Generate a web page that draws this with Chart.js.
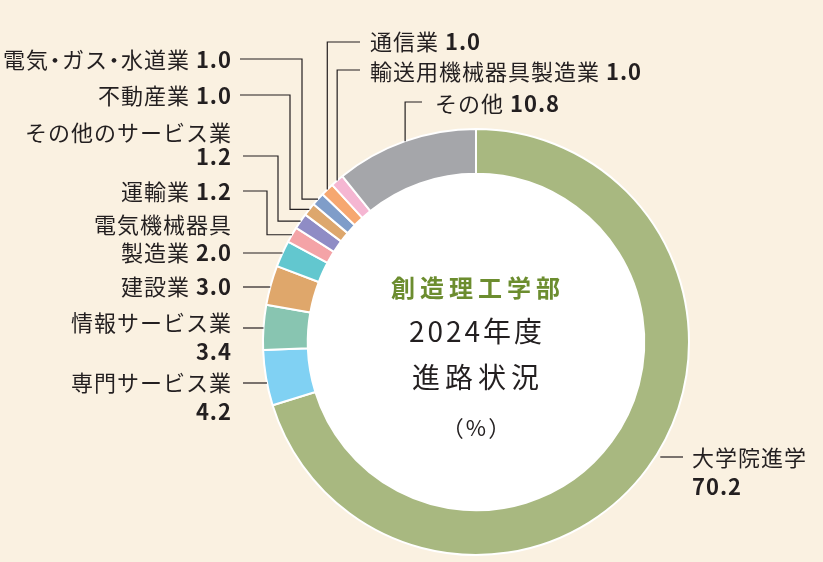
<!DOCTYPE html>
<html lang="ja">
<head>
<meta charset="utf-8">
<script src="https://cdn.jsdelivr.net/npm/chart.js@4.4.1/dist/chart.umd.min.js"></script>
<style>
  html, body { margin: 0; padding: 0; background: #FAF1E1; }
  #wrap { width: 823px; height: 562px; }
</style>
</head>
<body>
<div id="wrap"><canvas id="chart" width="823" height="562"></canvas></div>
<script>
// data (clockwise from 12 o'clock)
const categories = [
    '大学院進学', '専門サービス業', '情報サービス業', '建設業', '電気機械器具製造業',
    '運輸業', 'その他のサービス業', '不動産業', '電気・ガス・水道業', '通信業',
    '輸送用機械器具製造業', 'その他'
];
const values = [70.2, 4.2, 3.4, 3.0, 2.0, 1.2, 1.2, 1.0, 1.0, 1.0, 1.0, 10.8];
const sliceColors = [
    '#A8B880', '#80D1F3', '#88C5B1', '#DFA76B', '#62C7CF',
    '#F4A3A7', '#8F8CC5', '#DDA76D', '#7F9DC9', '#F6A770',
    '#F5B6D2', '#A5A6AA'
];
const centerLines = ['創造理工学部', '2024年度', '進路状況', '（%）'];

// where each label sits and how its leader line runs
// wrap: 'value' -> value on its own line, number -> break the name there
const labelLayout = [
    { side: 'right', x: 692, rows: [458, 487], wrap: 'value', lineY: 457, lineX0: 683, type: 'straight', gap: 5 },
    { side: 'left', x: 232, rows: [383, 412], wrap: 'value', lineY: 383, lineX0: 243, type: 'straight' },
    { side: 'left', x: 232, rows: [323, 352], wrap: 'value', lineY: 328, lineX0: 243, type: 'straight' },
    { side: 'left', x: 232, rows: [287], lineY: 287, lineX0: 243, type: 'straight' },
    { side: 'left', x: 232, rows: [225, 253], wrap: 6, lineY: 253, lineX0: 243, type: 'straight' },
    { side: 'left', x: 232, rows: [192], lineY: 191, lineX0: 243, type: 'elbow', elbowX: 267 },
    { side: 'left', x: 232, rows: [133, 157], wrap: 'value', lineY: 156, lineX0: 243, type: 'elbow', elbowX: 278 },
    { side: 'left', x: 232, rows: [96], lineY: 95, lineX0: 240, type: 'elbow', elbowX: 290 },
    { side: 'left', x: 232, rows: [60], lineY: 59, lineX0: 240, type: 'elbow', elbowX: 302 },
    { side: 'right', x: 370, rows: [42], lineY: 42, lineX0: 360, type: 'down' },
    { side: 'right', x: 370, rows: [72], lineY: 70, lineX0: 360, type: 'down' },
    { side: 'right', x: 435, rows: [104], lineY: 102, lineX0: 422, type: 'down' }
];

const FONT = '"Noto Sans CJK JP", "Noto Sans", sans-serif';
const INK = '#231F20';
const DOT = '・';
const LABEL_PX = 22;

function rowSegments(i) {
    const name = categories[i];
    const val = values[i].toFixed(1);
    const lay = labelLayout[i];
    if (lay.wrap === 'value') {
        return [[[name, false]], [[val, true]]];
    }
    if (typeof lay.wrap === 'number') {
        return [[[name.slice(0, lay.wrap), false]], [[name.slice(lay.wrap) + ' ', false], [val, true]]];
    }
    return [[[name + ' ', false], [val, true]]];
}

// the middle dot is set tighter, like proportional Japanese type
function pieces(t) {
    return t.split(/(・)/).filter(s => s.length);
}

function pieceWidth(ctx, p) {
    return p === DOT ? 13 : ctx.measureText(p).width;
}

function drawRow(ctx, segs, x, y, align) {
    ctx.letterSpacing = '1px';
    const widths = segs.map(([t, b]) => {
        ctx.font = (b ? '700 ' : '400 ') + LABEL_PX + 'px ' + FONT;
        return pieces(t).reduce((s, p) => s + pieceWidth(ctx, p), 0);
    });
    const total = widths.reduce((a, b) => a + b, 0);
    let cx = align === 'right' ? x - total : x;
    ctx.textBaseline = 'middle';
    segs.forEach(([t, b]) => {
        ctx.font = (b ? '700 ' : '400 ') + LABEL_PX + 'px ' + FONT;
        pieces(t).forEach(p => {
            const w = pieceWidth(ctx, p);
            if (p === DOT) {
                ctx.textAlign = 'center';
                ctx.fillText(p, cx + w / 2, y);
            } else {
                ctx.textAlign = 'left';
                ctx.fillText(p, cx, y);
            }
            cx += w;
        });
    });
}

const backdrop = {
    id: 'backdrop',
    beforeDraw(c) {
        const ctx = c.ctx;
        ctx.save();
        ctx.fillStyle = '#FAF1E1';
        ctx.fillRect(0, 0, c.width, c.height);
        const arc = c.getDatasetMeta(0).data[0];
        if (arc) {
            ctx.fillStyle = '#FFFFFF';
            ctx.beginPath();
            ctx.arc(arc.x, arc.y, arc.innerRadius, 0, Math.PI * 2);
            ctx.fill();
        }
        ctx.restore();
    }
};

const leaders = {
    id: 'leaders',
    afterDraw(c) {
        const ctx = c.ctx;
        const arcs = c.getDatasetMeta(0).data;
        ctx.save();
        ctx.strokeStyle = INK;
        ctx.fillStyle = INK;
        ctx.lineWidth = 1.2;
        arcs.forEach((arc, i) => {
            const lay = labelLayout[i];
            const R = arc.outerRadius;
            const mid = (arc.startAngle + arc.endAngle) / 2;
            const ex = arc.x + R * Math.cos(mid);
            const ey = arc.y + R * Math.sin(mid);
            ctx.beginPath();
            ctx.moveTo(lay.lineX0, lay.lineY);
            if (lay.type === 'straight') {
                const dy = lay.lineY - arc.y;
                const dx = Math.sqrt(Math.max(R * R - dy * dy, 0));
                const gap = lay.gap || 0;
                const edgeX = lay.side === 'left' ? arc.x - dx - gap : arc.x + dx + gap;
                ctx.lineTo(edgeX, lay.lineY);
            } else if (lay.type === 'elbow') {
                ctx.lineTo(lay.elbowX, lay.lineY);
                ctx.lineTo(lay.elbowX, ey);
                ctx.lineTo(ex, ey);
            } else {
                ctx.lineTo(ex, lay.lineY);
                ctx.lineTo(ex, ey);
            }
            ctx.stroke();

            rowSegments(i).forEach((segs, r) => {
                drawRow(ctx, segs, lay.x, lay.rows[r], lay.side === 'left' ? 'right' : 'left');
            });
        });

        // centre caption
        const cx = arcs[0].x;
        ctx.textAlign = 'center';
        ctx.textBaseline = 'middle';
        ctx.letterSpacing = '5px';
        ctx.fillStyle = '#6C8D2F';
        ctx.font = '700 24px ' + FONT;
        ctx.fillText(centerLines[0], cx + 2, 288);
        ctx.fillStyle = INK;
        ctx.letterSpacing = '3px';
        ctx.font = '400 28px ' + FONT;
        ctx.fillText(centerLines[1], cx + 1, 331);
        ctx.letterSpacing = '5px';
        ctx.fillText(centerLines[2], cx + 2, 377);
        ctx.letterSpacing = '2px';
        ctx.font = '400 22px ' + FONT;
        ctx.fillText(centerLines[3], cx + 1, 428);
        ctx.restore();
    }
};

new Chart(document.getElementById('chart').getContext('2d'), {
    type: 'doughnut',
    data: {
        labels: categories,
        datasets: [{
            data: values,
            backgroundColor: sliceColors,
            borderColor: '#FFFFFF',
            borderWidth: 2
        }]
    },
    options: {
        responsive: false,
        animation: false,
        cutout: '79%',
        layout: { padding: { top: 128, bottom: 6, left: 262, right: 133 } },
        plugins: {
            legend: { display: false },
            tooltip: { enabled: false }
        }
    },
    plugins: [backdrop, leaders]
});
</script>
</body>
</html>
